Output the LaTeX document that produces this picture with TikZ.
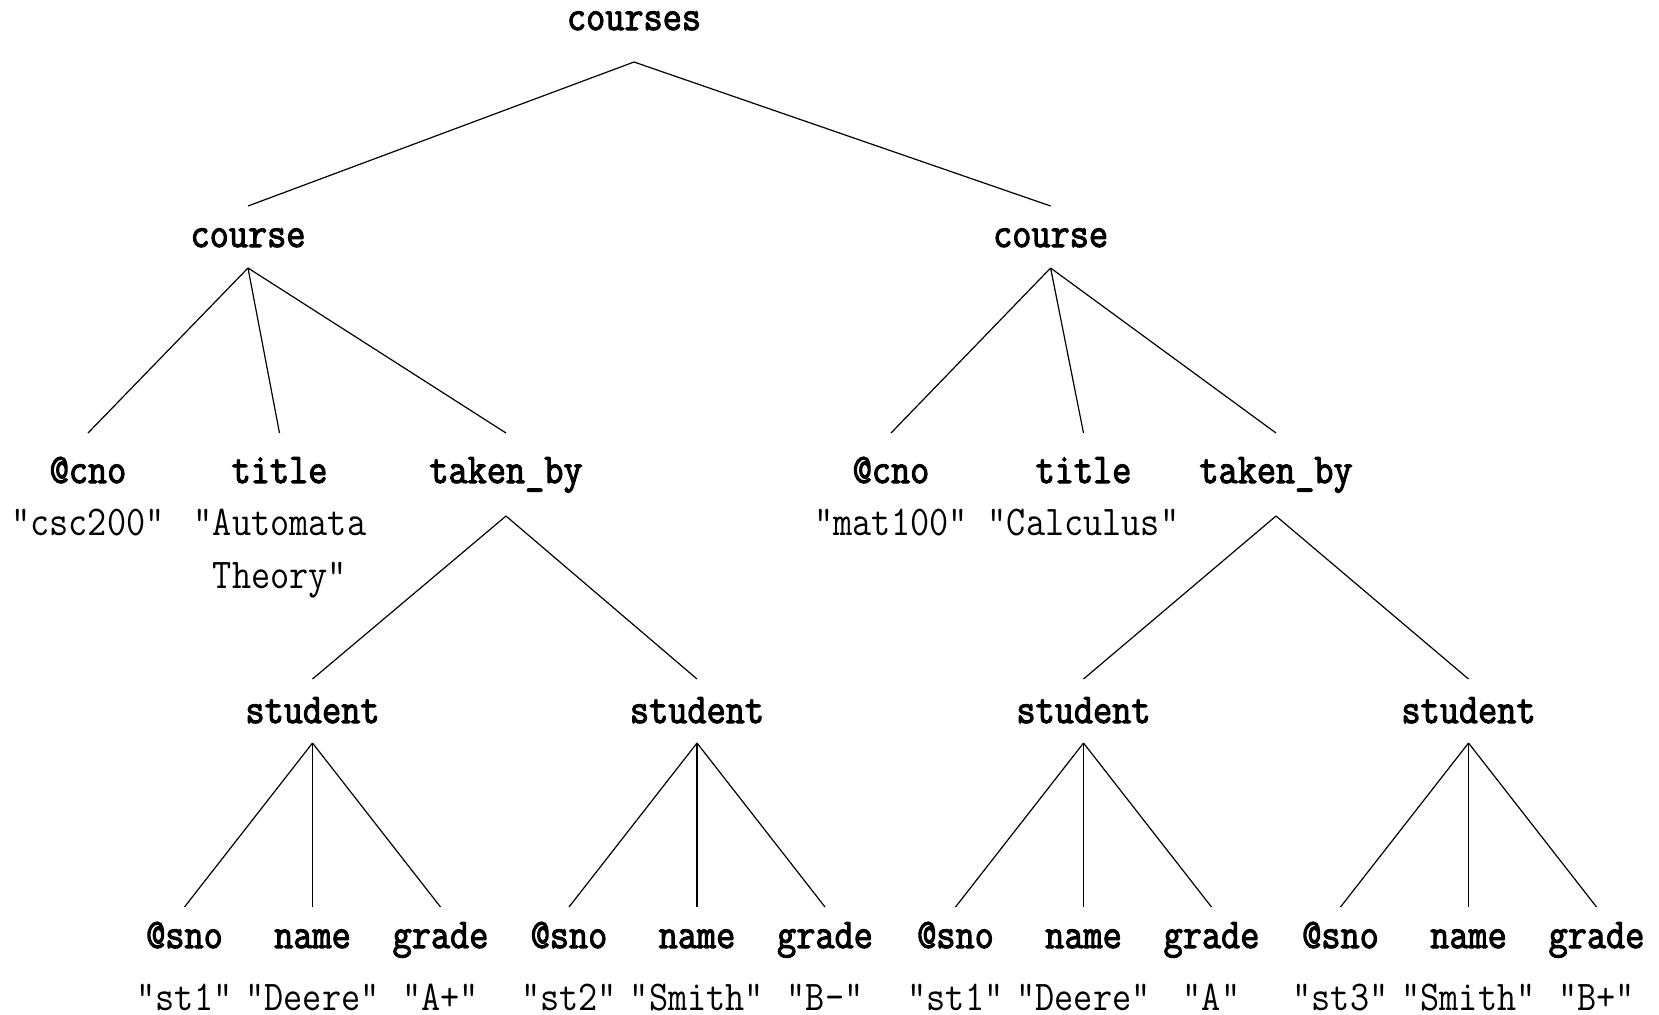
\documentclass[tikz,border=0pt]{standalone}
\usepackage{fontspec}
\newfontfamily\treemono[FakeStretch=0.877]{Latin Modern Mono}
\newfontfamily\treemonobold[FakeStretch=0.877,FakeBold=2.5]{Latin Modern Mono}
\usetikzlibrary{calc}
\tikzset{
  el/.style={font=\treemonobold\fontsize{21.2pt}{26.5pt}\selectfont, anchor=base, inner sep=0pt},
  val/.style={font=\treemono\fontsize{21.2pt}{26.5pt}\selectfont, anchor=base, inner sep=0pt},
  edge/.style={line width=0.6pt, black},
}
\newcommand\treelink[4]{\draw[edge] ($(#1.base)+(0,#2)$) -- ($(#3.base)+(0,#4)$);}
\begin{document}
\begin{tikzpicture}[x=0.5pt,y=-0.5pt]
\useasboundingbox (0,0) rectangle (1659,1014);
% root
\node[el] (root) at (634,30) {courses};
\node[el] (c1) at (248,247) {course};
\node[el] (c2) at (1050.6,247) {course};
% course 1 children
\node[el] (cno1) at (88,483) {@cno};
\node[el] (title1) at (279.5,483) {title};
\node[el] (tb1) at (506,483) {taken\_by};
\node[val] (cnov1) at (88,535) {"csc200"};
\node[val] (titlev1a) at (280,535) {"Automata};
\node[val] (titlev1b) at (280,588) {Theory"};
% course 2 children
\node[el] (cno2) at (891,483) {@cno};
\node[el] (title2) at (1083.5,483) {title};
\node[el] (tb2) at (1276,483) {taken\_by};
\node[val] (cnov2) at (891,535) {"mat100"};
\node[val] (titlev2) at (1083.5,535) {"Calculus"};
% students
\node[el] (s1) at (312.5,723) {student};
\node[el] (s2) at (697,723) {student};
\node[el] (s3) at (1083.5,723) {student};
\node[el] (s4) at (1468.5,723) {student};
% leaves
\node[el] (s1a) at (184.5,948) {@sno};
\node[el] (s1b) at (312.5,948) {name};
\node[el] (s1c) at (440.5,948) {grade};
\node[val] (s1av) at (184.5,1010) {"st1"};
\node[val] (s1bv) at (312.5,1010) {"Deere"};
\node[val] (s1cv) at (440.5,1010) {"A+"};
\node[el] (s2a) at (569,948) {@sno};
\node[el] (s2b) at (697,948) {name};
\node[el] (s2c) at (825,948) {grade};
\node[val] (s2av) at (569,1010) {"st2"};
\node[val] (s2bv) at (697,1010) {"Smith"};
\node[val] (s2cv) at (825,1010) {"B-"};
\node[el] (s3a) at (955.5,948) {@sno};
\node[el] (s3b) at (1083.5,948) {name};
\node[el] (s3c) at (1211.5,948) {grade};
\node[val] (s3av) at (955.5,1010) {"st1"};
\node[val] (s3bv) at (1083.5,1010) {"Deere"};
\node[val] (s3cv) at (1211.5,1010) {"A"};
\node[el] (s4a) at (1340.5,948) {@sno};
\node[el] (s4b) at (1468.5,948) {name};
\node[el] (s4c) at (1596.5,948) {grade};
\node[val] (s4av) at (1340.5,1010) {"st3"};
\node[val] (s4bv) at (1468.5,1010) {"Smith"};
\node[val] (s4cv) at (1596.5,1010) {"B+"};
% edges
\treelink{root}{32}{c1}{-41}
\treelink{root}{32}{c2}{-41}
\foreach \p/\k in {c1/cno1,c1/title1,c1/tb1,c2/cno2,c2/title2,c2/tb2}{\treelink{\p}{21}{\k}{-50}}
\foreach \p/\k in {tb1/s1,tb1/s2,tb2/s3,tb2/s4}{\treelink{\p}{33}{\k}{-44}}
\foreach \p in {s1,s2,s3,s4}{
  \treelink{\p}{20}{\p a}{-41}
  \treelink{\p}{20}{\p b}{-41}
  \treelink{\p}{20}{\p c}{-41}
}
\end{tikzpicture}
\end{document}
